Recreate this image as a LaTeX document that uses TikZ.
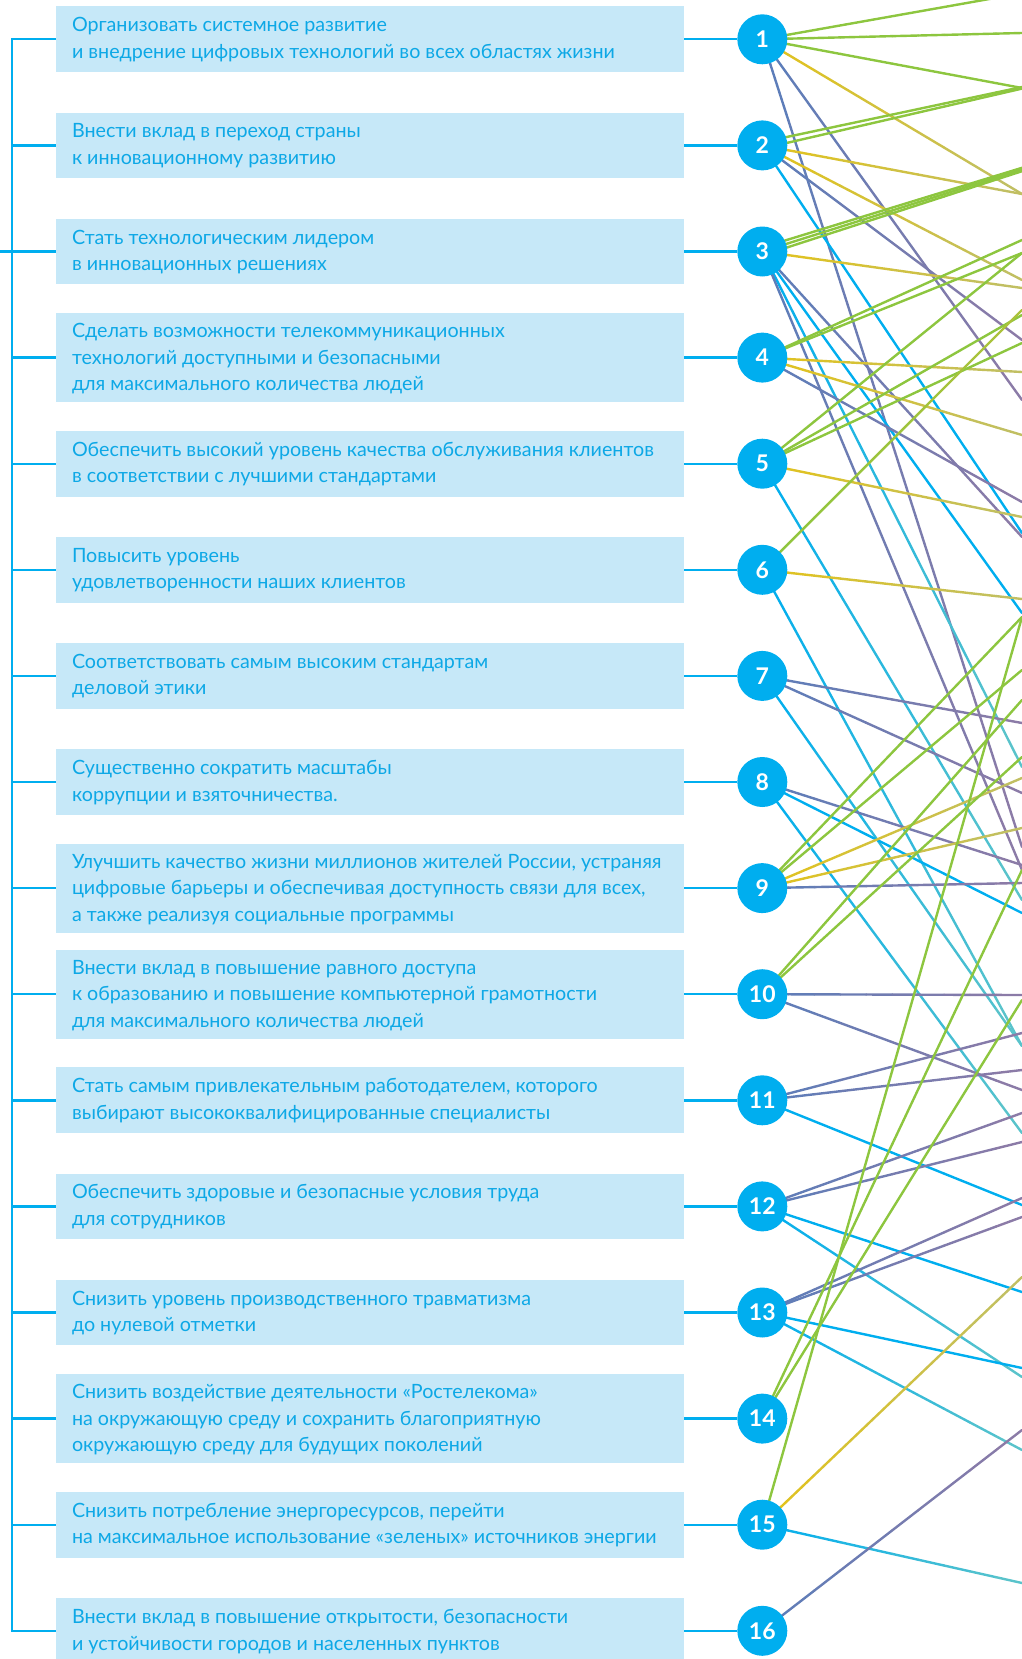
\documentclass[tikz,border=0pt]{standalone}
\usepackage{fontspec}
\setmainfont{Lato}
\usetikzlibrary{calc}
\definecolor{cya}{HTML}{00AEEF}
\definecolor{boxc}{HTML}{C6E8F8}
\definecolor{txtc}{HTML}{0DA8E6}
\definecolor{grn}{HTML}{8DC63F}
\definecolor{gol}{HTML}{AEC23B}
\definecolor{yel}{HTML}{E3C31A}
\definecolor{oli}{HTML}{BFBF66}
\definecolor{blu}{HTML}{5A7DBA}
\definecolor{pur}{HTML}{8E7BA6}
\definecolor{tea}{HTML}{5EC4C9}
\pgfdeclarelayer{bg}
\pgfsetlayers{bg,main}
\newcommand\gline[4]{%
  \foreach \k in {0,...,9}{%
    \pgfmathsetmacro\gka{\k/10}%
    \pgfmathsetmacro\gkb{(\k+1)/10}%
    \pgfmathtruncatemacro\gpc{95-10*\k}%
    \draw[sdgline, draw=#3!\gpc!#4] ($(#1)!\gka!(#2)$) -- ($(#1)!\gkb!(#2)$);
  }}
\begin{document}
\begin{tikzpicture}[x=1pt,y=-1pt,
  box/.style={fill=boxc, draw=none, minimum width=627.7pt, minimum height=65.7pt, inner sep=0pt},
  box3/.style={box, minimum height=89pt},
  txt/.style={text=txtc, font=\fontsize{19.7}{26.5}\selectfont, inner sep=0pt, anchor=base west},
  circ/.style={circle, fill=cya, minimum size=50pt, inner sep=0pt, text=white, font=\bfseries\fontsize{23}{23}\selectfont},
  conn/.style={draw=cya, line width=2.4pt},
  sdgline/.style={line width=2.4pt, line cap=round},
]
\useasboundingbox (0,0) rectangle (1022,1659);
\clip (0,0) rectangle (1022,1659);

% circles, boxes, bracket points
\foreach \i/\h in {1/box,2/box,3/box,4/box3,5/box,6/box,7/box,8/box,9/box3,10/box3,11/box,12/box,13/box,14/box3,15/box,16/box}{
  \pgfmathsetmacro\yy{39.3+(\i-1)*106.1}
  \node[circ] (c\i) at (762.3,\yy) {\i};
  \node[\h] (b\i) at (369.65,\yy) {};
  \coordinate (L\i) at (12,\yy);
}
\coordinate (S) at (0,251.5);

% texts
\node[txt] (t1) at ($(b1.west)+(16.2,-7.5)$) {\vtop{\hbox{Организовать системное развитие}\hbox{и внедрение цифровых технологий во всех областях жизни}}};
\node[txt] (t2) at ($(b2.west)+(16.2,-7.5)$) {\vtop{\hbox{Внести вклад в переход страны}\hbox{к инновационному развитию}}};
\node[txt] (t3) at ($(b3.west)+(16.2,-7.5)$) {\vtop{\hbox{Стать технологическим лидером}\hbox{в инновационных решениях}}};
\node[txt] (t4) at ($(b4.west)+(16.2,-19.75)$) {\vtop{\hbox{Сделать возможности телекоммуникационных}\hbox{технологий доступными и безопасными}\hbox{для максимального количества людей}}};
\node[txt] (t5) at ($(b5.west)+(16.2,-7.5)$) {\vtop{\hbox{Обеспечить высокий уровень качества обслуживания клиентов}\hbox{в соответствии с лучшими стандартами}}};
\node[txt] (t6) at ($(b6.west)+(16.2,-7.5)$) {\vtop{\hbox{Повысить уровень}\hbox{удовлетворенности наших клиентов}}};
\node[txt] (t7) at ($(b7.west)+(16.2,-7.5)$) {\vtop{\hbox{Соответствовать самым высоким стандартам}\hbox{деловой этики}}};
\node[txt] (t8) at ($(b8.west)+(16.2,-7.5)$) {\vtop{\hbox{Существенно сократить масштабы}\hbox{коррупции и взяточничества.}}};
\node[txt] (t9) at ($(b9.west)+(16.2,-19.75)$) {\vtop{\hbox{Улучшить качество жизни миллионов жителей России, устраняя}\hbox{цифровые барьеры и обеспечивая доступность связи для всех,}\hbox{а также реализуя социальные программы}}};
\node[txt] (t10) at ($(b10.west)+(16.2,-19.75)$) {\vtop{\hbox{Внести вклад в повышение равного доступа}\hbox{к образованию и повышение компьютерной грамотности}\hbox{для максимального количества людей}}};
\node[txt] (t11) at ($(b11.west)+(16.2,-7.5)$) {\vtop{\hbox{Стать самым привлекательным работодателем, которого}\hbox{выбирают высококвалифицированные специалисты}}};
\node[txt] (t12) at ($(b12.west)+(16.2,-7.5)$) {\vtop{\hbox{Обеспечить здоровые и безопасные условия труда}\hbox{для сотрудников}}};
\node[txt] (t13) at ($(b13.west)+(16.2,-7.5)$) {\vtop{\hbox{Снизить уровень производственного травматизма}\hbox{до нулевой отметки}}};
\node[txt] (t14) at ($(b14.west)+(16.2,-19.75)$) {\vtop{\hbox{Снизить воздействие деятельности «Ростелекома»}\hbox{на окружающую среду и сохранить благоприятную}\hbox{окружающую среду для будущих поколений}}};
\node[txt] (t15) at ($(b15.west)+(16.2,-7.5)$) {\vtop{\hbox{Снизить потребление энергоресурсов, перейти}\hbox{на максимальное использование «зеленых» источников энергии}}};
\node[txt] (t16) at ($(b16.west)+(16.2,-7)$) {\vtop{\hbox{Внести вклад в повышение открытости, безопасности}\hbox{и устойчивости городов и населенных пунктов}}};

% end points at the right edge
\coordinate (etop) at (1040,-10);
\foreach \e in {33,194,240,253,280,288,310,315,340,343,372,400,435,502,517,533,537,599,613,617,670,700,723,757,767,778,793,828,847,865,870,883,900,913,995,1000,1033,1046,1070,1090,1113,1133,1142,1198,1205,1217,1277,1292,1368,1377,1430,1450,1583}{
  \coordinate (e\e) at (1022,\e);
}
\coordinate (e88) at (1022,87);
\coordinate (e88b) at (1022,88.6);
\coordinate (e88c) at (1022,88);
\coordinate (c2u) at ($(c2)+(0,-3.2)$);
\coordinate (c2d) at ($(c2)+(0,3.2)$);
\coordinate (e170u) at (1022,167.8);
\coordinate (e170) at (1022,169.5);
\coordinate (e170d) at (1022,171.2);
\coordinate (c3u) at ($(c3)+(0,-4)$);
\coordinate (c3d) at ($(c3)+(0,4)$);

\begin{pgfonlayer}{bg}
% bracket and connectors
\draw[conn] (b1.west) -- (L1) -- (L16) -- (b16.west);
\foreach \i in {2,...,15}{\draw[conn] (L\i) -- (b\i.west);}
\draw[conn] (S) -- (L3);
\foreach \i in {1,...,16}{\draw[conn] (b\i.east) -- (c\i);}

% lines to the right
\gline{c1}{etop}{grn}{grn}
\gline{c1}{e33}{grn}{grn}
\gline{c1}{e88c}{grn}{grn}
\gline{c1}{e194}{yel}{oli}
\gline{c1}{e400}{blu}{pur}
\gline{c1}{e847}{blu}{pur}
\gline{c2u}{e88}{grn}{grn}
\gline{c2d}{e88b}{grn}{grn}
\gline{c2}{e194}{yel}{oli}
\gline{c2}{e280}{yel}{oli}
\gline{c2}{e340}{blu}{pur}
\gline{c2}{e533}{cya}{cya}
\gline{c3u}{e170u}{grn}{grn}
\gline{c3}{e170}{grn}{grn}
\gline{c3d}{e170d}{grn}{grn}
\gline{c3}{e288}{yel}{oli}
\gline{c3}{e537}{blu}{pur}
\gline{c3}{e613}{cya}{cya}
\gline{c3}{e767}{cya}{tea}
\gline{c3}{e870}{blu}{pur}
\gline{c4}{e240}{grn}{grn}
\gline{c4}{e253}{grn}{grn}
\gline{c4}{e372}{yel}{oli}
\gline{c4}{e435}{yel}{oli}
\gline{c4}{e502}{blu}{pur}
\gline{c5}{e253}{grn}{grn}
\gline{c5}{e315}{grn}{grn}
\gline{c5}{e343}{grn}{grn}
\gline{c5}{e517}{yel}{oli}
\gline{c5}{e900}{cya}{tea}
\gline{c6}{e310}{grn}{gol}
\gline{c6}{e599}{yel}{oli}
\gline{c6}{e1046}{cya}{tea}
\gline{c7}{e723}{blu}{pur}
\gline{c7}{e793}{blu}{pur}
\gline{c7}{e1046}{cya}{tea}
\gline{c8}{e865}{blu}{pur}
\gline{c8}{e913}{cya}{cya}
\gline{c8}{e1133}{cya}{tea}
\gline{c9}{e617}{grn}{grn}
\gline{c9}{e670}{grn}{grn}
\gline{c9}{e778}{yel}{oli}
\gline{c9}{e828}{yel}{oli}
\gline{c9}{e883}{blu}{pur}
\gline{c10}{e700}{grn}{grn}
\gline{c10}{e757}{grn}{grn}
\gline{c10}{e995}{blu}{pur}
\gline{c10}{e1090}{blu}{pur}
\gline{c11}{e1033}{blu}{pur}
\gline{c11}{e1070}{blu}{pur}
\gline{c11}{e1205}{cya}{cya}
\gline{c12}{e1113}{blu}{pur}
\gline{c12}{e1142}{blu}{pur}
\gline{c12}{e1292}{cya}{cya}
\gline{c12}{e1377}{cya}{tea}
\gline{c13}{e1198}{blu}{pur}
\gline{c13}{e1217}{blu}{pur}
\gline{c13}{e1368}{cya}{cya}
\gline{c13}{e1450}{cya}{tea}
\gline{c14}{e870}{grn}{grn}
\gline{c14}{e1000}{grn}{grn}
\gline{c15}{e617}{grn}{grn}
\gline{c15}{e1277}{yel}{oli}
\gline{c15}{e1583}{cya}{tea}
\gline{c16}{e1430}{blu}{pur}
\end{pgfonlayer}
\end{tikzpicture}
\end{document}
